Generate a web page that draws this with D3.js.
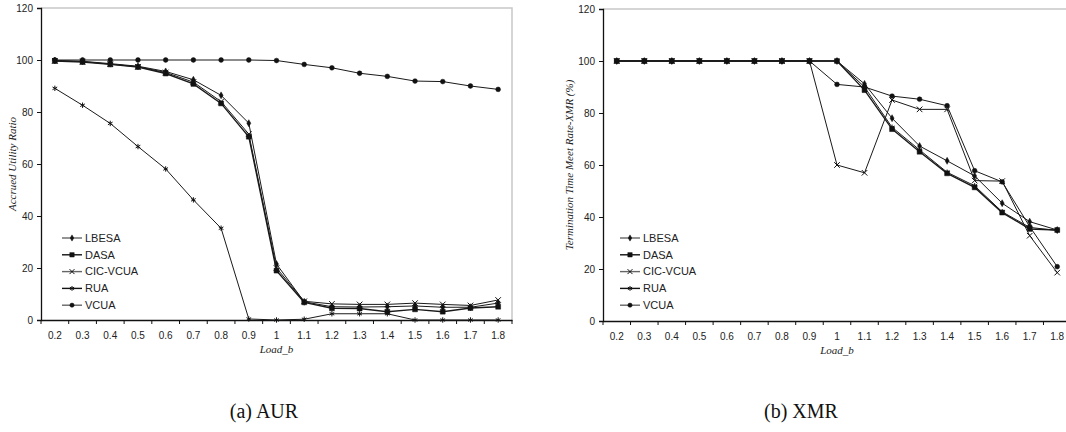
<!DOCTYPE html>
<html>
<head>
<meta charset="utf-8">
<script src="https://cdn.jsdelivr.net/npm/d3@7"></script>
<style>
  body { margin: 0; background: #fff; }
  svg { display: block; }
</style>
</head>
<body>
<div id="chart"></div>
<script>
// x categories (Load_b) shared by both panels
const loads = ['0.2', '0.3', '0.4', '0.5', '0.6', '0.7', '0.8', '0.9', '1', '1.1', '1.2', '1.3', '1.4', '1.5', '1.6', '1.7', '1.8']
const yTicks = [0, 20, 40, 60, 80, 100, 120]
const seriesNames = ['LBESA', 'DASA', 'CIC-VCUA', 'RUA', 'VCUA']

// (a) AUR values
const aurLBESA = [99.8, 99.5, 98.6, 97.6, 95.6, 92.4, 86.4, 75.7, 21.5, 7.0, 5.1, 5.0, 5.1, 5.4, 4.9, 4.9, 6.5]
const aurDASA = [99.6, 99.2, 98.3, 97.3, 94.8, 90.8, 83.3, 70.5, 19.0, 6.8, 4.5, 4.4, 3.2, 4.1, 3.2, 4.6, 5.1]
const aurCIC = [99.7, 99.4, 98.4, 97.4, 95.2, 91.5, 84.0, 71.5, 20.0, 7.2, 6.2, 6.0, 6.0, 6.5, 6.0, 5.6, 7.7]
const aurRUA = [89.1, 82.6, 75.6, 66.7, 58.1, 46.2, 35.3, 0.4, 0, 0.3, 2.4, 2.4, 2.4, 0, 0, 0, 0]
const aurVCUA = [100, 100, 100, 100, 100, 100, 100, 100, 99.8, 98.3, 97.0, 94.9, 93.7, 91.9, 91.7, 90.0, 88.7]

// (b) XMR values
const xmrLBESA = [100, 100, 100, 100, 100, 100, 100, 100, 100, 91.2, 78.0, 67.3, 61.6, 55.8, 45.3, 38.2, 35.0]
const xmrDASA = [100, 100, 100, 100, 100, 100, 100, 100, 100, 88.8, 73.8, 65.1, 56.8, 51.4, 41.7, 35.4, 35.0]
const xmrCIC = [100, 100, 100, 100, 100, 100, 100, 100, 60.0, 57.0, 85.0, 81.4, 81.4, 54.0, 53.8, 32.8, 18.6]
const xmrRUA = [100, 100, 100, 100, 100, 100, 100, 100, 100, 90.0, 74.5, 65.8, 57.2, 52.0, 42.0, 36.0, 34.8]
const xmrVCUA = [100, 100, 100, 100, 100, 100, 100, 100, 91.0, 90.0, 86.5, 85.3, 82.8, 57.8, 53.5, 36.3, 20.9]

// one marker per series, like the Excel defaults
const markers = {
  LBESA: { type: d3.symbolDiamond, size: 14, fill: true },
  DASA: { type: d3.symbolSquare, size: 24, fill: true },
  'CIC-VCUA': { type: d3.symbolTimes, size: 22, fill: false },
  RUA: { type: d3.symbolAsterisk, size: 20, fill: false },
  VCUA: { type: d3.symbolCircle, size: 18, fill: true }
}
const strokeWidths = { LBESA: 1, DASA: 1.4, 'CIC-VCUA': 1, RUA: 1, VCUA: 1 }

const svg = d3.select('#chart')
  .append('svg')
  .attr('width', 1066)
  .attr('height', 432)

function drawPanel (p) {
  const x = d3.scaleBand().domain(loads).range([p.left, p.right])
  const y = d3.scaleLinear().domain([0, 120]).range([p.bottom, p.top])
  const g = svg.append('g')

  // grey frame on top and right (plot area border)
  g.append('path')
    .attr('d', `M${p.left},${p.top}H${p.right}V${p.bottom}`)
    .attr('fill', 'none')
    .attr('stroke', '#c8c8c8')
    .attr('stroke-width', 1.5)

  // y axis
  const yAxis = g.append('g')
    .attr('transform', `translate(${p.left},0)`)
    .call(d3.axisLeft(y).tickValues(yTicks).tickSize(4).tickPadding(4))
  yAxis.select('.domain').attr('stroke', '#111').attr('stroke-width', 1.3)
  yAxis.selectAll('.tick line').attr('stroke', '#111')
  yAxis.selectAll('text').attr('font-family', 'Liberation Sans, Arial, sans-serif').attr('font-size', 10).attr('fill', '#222')

  // x axis: labels in the middle of each band, ticks between bands
  const xAxis = g.append('g')
    .attr('transform', `translate(0,${p.bottom})`)
    .call(d3.axisBottom(x).tickSize(0).tickPadding(12))
  xAxis.select('.domain').attr('stroke', '#111').attr('stroke-width', 1.3)
  xAxis.selectAll('text').attr('font-family', 'Liberation Sans, Arial, sans-serif').attr('font-size', 10).attr('fill', '#222')
  xAxis.selectAll('line.sep')
    .data(d3.range(loads.length + 1))
    .enter()
    .append('line')
    .attr('class', 'sep')
    .attr('x1', d => p.left + d * x.step())
    .attr('x2', d => p.left + d * x.step())
    .attr('y1', 0)
    .attr('y2', 4)
    .attr('stroke', '#111')

  // axis titles
  g.append('text')
    .attr('transform', `translate(${p.ytitleX},${(p.top + p.bottom) / 2}) rotate(-90)`)
    .attr('text-anchor', 'middle')
    .attr('font-family', 'Liberation Serif, Times New Roman, serif')
    .attr('font-style', 'italic')
    .attr('font-size', 11)
    .attr('fill', '#222')
    .text(p.ytitle)
  g.append('text')
    .attr('x', (p.left + p.right) / 2)
    .attr('y', p.bottom + 33)
    .attr('text-anchor', 'middle')
    .attr('font-family', 'Liberation Serif, Times New Roman, serif')
    .attr('font-style', 'italic')
    .attr('font-size', 11)
    .attr('fill', '#222')
    .text('Load_b')

  const line = d3.line()
    .x((d, i) => x(loads[i]) + x.bandwidth() / 2)
    .y(d => y(d))

  p.series.forEach(function (s) {
    const m = markers[s.name]
    g.append('path')
      .datum(s.values)
      .attr('d', line)
      .attr('fill', 'none')
      .attr('stroke', '#1a1a1a')
      .attr('stroke-width', strokeWidths[s.name])
    g.selectAll(null)
      .data(s.values)
      .enter()
      .append('path')
      .attr('transform', (d, i) => `translate(${x(loads[i]) + x.bandwidth() / 2},${y(d)})`)
      .attr('d', d3.symbol().type(m.type).size(m.size))
      .attr('fill', m.fill ? '#111' : 'none')
      .attr('stroke', '#111')
      .attr('stroke-width', m.fill ? 0.5 : 1)
  })

  // legend, inside the plot at lower left
  const leg = g.append('g')
  seriesNames.forEach(function (name, i) {
    const m = markers[name]
    const ly = p.legendY + i * 16.8
    leg.append('line')
      .attr('x1', p.legendX).attr('x2', p.legendX + 20)
      .attr('y1', ly).attr('y2', ly)
      .attr('stroke', name === 'DASA' || name === 'RUA' ? '#111' : '#666')
      .attr('stroke-width', 1.4)
    leg.append('path')
      .attr('transform', `translate(${p.legendX + 10},${ly})`)
      .attr('d', d3.symbol().type(m.type).size(m.size * 0.8))
      .attr('fill', m.fill ? '#111' : 'none')
      .attr('stroke', '#111')
      .attr('stroke-width', m.fill ? 0.5 : 1)
    leg.append('text')
      .attr('x', p.legendX + 23)
      .attr('y', ly)
      .attr('dy', '0.35em')
      .attr('font-family', 'Liberation Sans, Arial, sans-serif')
      .attr('font-size', 11)
      .attr('fill', '#222')
      .text(name)
  })

  // caption under the panel
  svg.append('text')
    .attr('x', p.captionX)
    .attr('y', 418)
    .attr('text-anchor', 'middle')
    .attr('font-family', 'Liberation Serif, Times New Roman, serif')
    .attr('font-size', 20)
    .attr('fill', '#111')
    .text(p.caption)
}

drawPanel({
  left: 41, right: 512, top: 8, bottom: 320,
  ytitle: 'Accrued Utility Ratio', ytitleX: 16,
  legendX: 62, legendY: 238,
  caption: '(a) AUR', captionX: 264,
  series: [
    { name: 'LBESA', values: aurLBESA },
    { name: 'DASA', values: aurDASA },
    { name: 'CIC-VCUA', values: aurCIC },
    { name: 'RUA', values: aurRUA },
    { name: 'VCUA', values: aurVCUA }
  ]
})

drawPanel({
  left: 603, right: 1071, top: 9, bottom: 321,
  ytitle: 'Termination Time Meet Rate-XMR (%)', ytitleX: 573,
  legendX: 620, legendY: 238,
  caption: '(b) XMR', captionX: 801,
  series: [
    { name: 'LBESA', values: xmrLBESA },
    { name: 'DASA', values: xmrDASA },
    { name: 'CIC-VCUA', values: xmrCIC },
    { name: 'RUA', values: xmrRUA },
    { name: 'VCUA', values: xmrVCUA }
  ]
})
</script>
</body>
</html>
